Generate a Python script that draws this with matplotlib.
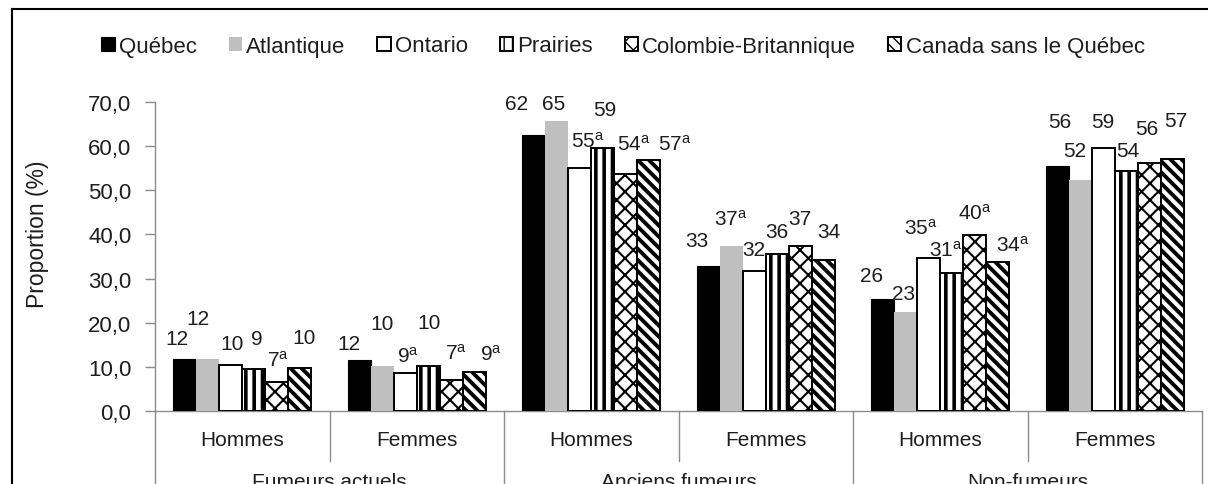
import matplotlib
matplotlib.use("Agg")
import matplotlib.pyplot as plt
from matplotlib.lines import Line2D
from matplotlib.transforms import blended_transform_factory
import numpy as np

plt.rcParams['font.family'] = ['Liberation Sans', 'DejaVu Sans']
plt.rcParams['mathtext.fontset'] = 'custom'
plt.rcParams['mathtext.rm'] = 'Liberation Sans'
plt.rcParams['mathtext.it'] = 'Liberation Sans'

# ---------------- data ----------------
groups = ["Fumeurs actuels", "Anciens fumeurs", "Non-fumeurs"]
sexes = ["Hommes", "Femmes"]
series = ["Québec", "Atlantique", "Ontario", "Prairies",
          "Colombie-Britannique", "Canada sans le Québec"]

quebec = [11.8, 11.5, 62.6, 32.8, 25.4, 55.5]
atlantique = [11.8, 10.3, 65.6, 37.3, 22.5, 52.3]
ontario = [10.4, 8.6, 55.0, 31.8, 34.6, 59.5]
prairies = [9.5, 10.3, 59.6, 35.6, 31.2, 54.3]
colombie = [6.6, 7.0, 53.7, 37.3, 39.8, 56.2]
canada = [9.7, 8.9, 56.8, 34.3, 33.7, 57.0]

quebec_lbl = ["12", "12", "62", "33", "26", "56"]
atlantique_lbl = ["12", "10", "65", "37a", "23", "52"]
ontario_lbl = ["10", "9a", "55a", "32", "35a", "59"]
prairies_lbl = ["9", "10", "59", "36", "31a", "54"]
colombie_lbl = ["7a", "7a", "54a", "37", "40a", "56"]
canada_lbl = ["10", "9a", "57a", "34", "34a", "57"]

yticks = [0, 10, 20, 30, 40, 50, 60, 70]

# label offsets in pixels (layout only)
lbl_dy = [
    [20, 17, 31, 26, 23, 45],
    [40, 42, 18, 28, 18, 30],
    [22, 17, 28, 21, 31, 27],
    [31, 43, 38, 22, 24, 21],
    [22, 27, 30, 28, 23, 34],
    [31, 18, 17, 28, 18, 39],
]
lbl_dx = [
    [-8, -10, -17, -11, -11, 3],
    [-10, 0, -3, 0, -2, -6],
    [1, 3, 8, 0, -8, 0],
    [3, 1, 2, 0, -6, 2],
    [1, 5, 8, 0, 0, -2],
    [4, 17, 26, 6, 15, 4],
]

values = [quebec, atlantique, ontario, prairies, colombie, canada]
labels = [quebec_lbl, atlantique_lbl, ontario_lbl, prairies_lbl, colombie_lbl, canada_lbl]

styles = [
    dict(color='black', edgecolor='black', linewidth=0.8, hatch=None, hlw=1.0),
    dict(color='#bfbfbf', edgecolor='#bfbfbf', linewidth=0.0, hatch=None, hlw=1.0),
    dict(color='white', edgecolor='black', linewidth=1.4, hatch=None, hlw=1.0),
    dict(color='white', edgecolor='black', linewidth=1.4, hatch='||', hlw=2.6),
    dict(color='white', edgecolor='black', linewidth=1.4, hatch='xx', hlw=1.5),
    dict(color='white', edgecolor='black', linewidth=1.4, hatch='\\\\\\', hlw=2.8),
]

W, H = 1208, 485
fig = plt.figure(figsize=(W / 100, H / 100), dpi=100)

x_left, x_right = 155, 1202
y_zero, y_top = 412, 103
ax = fig.add_axes([x_left / W, (H - y_zero) / H, (x_right - x_left) / W, (y_zero - y_top) / H])

TXT = '#1e1e1e'
GRID = '#8c8c8c'
FS_LBL = 15
FS_TICK = 16
FS_CAT = 15
FS_LEG = 16

ncl = 6
x = np.arange(ncl) + 0.5
bw = 0.1318
handles = []
for j, (vals, st) in enumerate(zip(values, styles)):
    with plt.rc_context({'hatch.linewidth': st['hlw']}):
        bars = ax.bar(x + (j - 2.5) * bw, vals, width=bw, color=st['color'],
                      edgecolor=st['edgecolor'], linewidth=st['linewidth'],
                      hatch=st['hatch'], label=series[j], zorder=3)
    for b in bars:
        if hasattr(b, 'set_hatch_linewidth'):
            b.set_hatch_linewidth(st['hlw'])
    handles.append(bars)
    for i, (v, l) in enumerate(zip(vals, labels[j])):
        txt = l[:-1] + r'$^{\mathrm{a}}$' if l.endswith('a') else l
        ax.annotate(txt, (x[i] + (j - 2.5) * bw, v), xytext=(lbl_dx[j][i], lbl_dy[j][i]),
                    textcoords='offset pixels', ha='center', va='center',
                    fontsize=FS_LBL, color=TXT, annotation_clip=False)

ax.set_xlim(0, ncl)
ax.set_ylim(0, 70)
ax.set_yticks(yticks)
ax.set_yticklabels([f"{t:.1f}".replace('.', ',') for t in yticks], fontsize=FS_TICK, color=TXT)
ax.set_xticks([])
for s in ['top', 'right']:
    ax.spines[s].set_visible(False)
for s in ['left', 'bottom']:
    ax.spines[s].set_color(GRID)
    ax.spines[s].set_linewidth(1.0)
ax.tick_params(axis='y', direction='out', length=7, width=1.0, color=GRID, pad=10)
ax.set_facecolor('none')

# y label
fig.text(38 / W, 1 - 234 / H, "Proportion (%)", rotation=90, ha='center', va='center',
         fontsize=16.5, color=TXT)

# category axis (multi-level)
tr = blended_transform_factory(ax.transData, fig.transFigure)
def fy(py):
    return 1 - py / H
for xs in [0, 2, 4, 6]:
    fig.add_artist(Line2D([xs, xs], [fy(y_zero), fy(H + 5)], transform=tr, color=GRID, lw=1.0))
for xs in [1, 3, 5]:
    fig.add_artist(Line2D([xs, xs], [fy(y_zero), fy(462)], transform=tr, color=GRID, lw=1.0))
for i in range(ncl):
    fig.text(x[i], fy(441), sexes[i % 2], transform=tr, ha='center', va='center',
             fontsize=FS_CAT, color=TXT)
for k, g in enumerate(groups):
    fig.text(2 * k + 1, fy(473), g, transform=tr, ha='center', va='top',
             fontsize=FS_CAT, color=TXT)

# outer frame
fig.add_artist(Line2D([12 / W, 12 / W], [fy(10), fy(H + 5)], transform=fig.transFigure,
                      color='black', lw=1.5))
fig.add_artist(Line2D([12 / W, 1.01], [fy(10), fy(10)], transform=fig.transFigure,
                      color='black', lw=1.5))

# legend
leg = fig.legend(handles=handles, labels=series, loc='center', ncol=6,
                 bbox_to_anchor=(623 / W, fy(47)), frameon=False, fontsize=FS_LEG,
                 handlelength=0.6, handleheight=0.6, handletextpad=0.2,
                 columnspacing=1.42, labelcolor=TXT, borderaxespad=0, borderpad=0)

fig.savefig('out.png', dpi=100)
